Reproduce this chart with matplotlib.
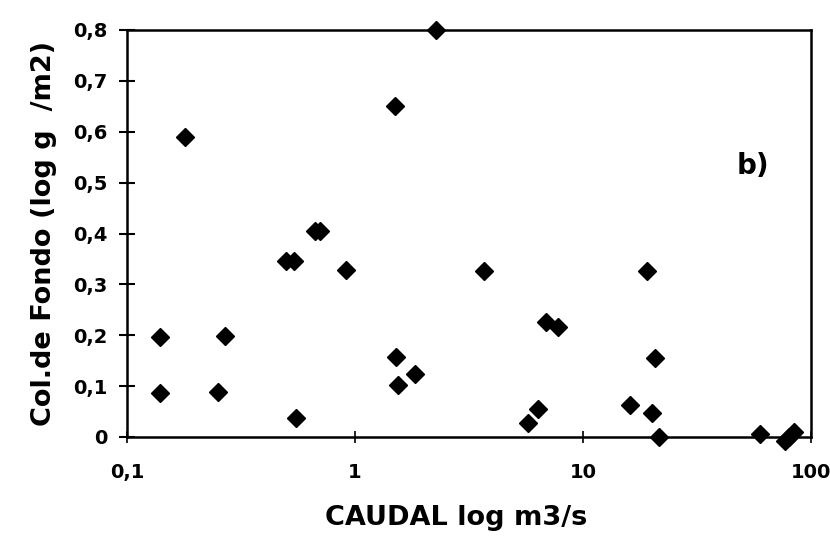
import matplotlib
matplotlib.use("Agg")
import matplotlib.pyplot as plt
from matplotlib.ticker import FixedLocator, FixedFormatter, NullLocator

# Discharge (m3/s) and bottom collector values (log g/m2)
caudal = [0.14, 0.14, 0.27, 0.25, 0.18, 0.55, 0.50, 0.54, 0.67, 0.70,
          0.91, 1.52, 1.55, 1.84, 1.50, 2.27, 3.68, 19.1, 6.86, 7.76,
          20.6, 6.38, 5.74, 16.0, 20.0, 21.6, 59.7, 76.8, 84.1, 80.0]
col_fondo = [0.197, 0.087, 0.198, 0.088, 0.590, 0.038, 0.345, 0.345, 0.405, 0.405,
             0.329, 0.158, 0.103, 0.124, 0.651, 0.800, 0.326, 0.327, 0.227, 0.216,
             0.156, 0.056, 0.028, 0.063, 0.047, 0.000, 0.005, -0.008, 0.009, 0.0]

x_ticks = [0.1, 1, 10, 100]
x_tick_labels = ["0,1", "1", "10", "100"]
y_ticks = [0, 0.1, 0.2, 0.3, 0.4, 0.5, 0.6, 0.7, 0.8]
y_tick_labels = ["0", "0,1", "0,2", "0,3", "0,4", "0,5", "0,6", "0,7", "0,8"]

plt.rcParams["font.family"] = ["DejaVu Sans"]

W, H = 830, 548
fig = plt.figure(figsize=(W / 100, H / 100), dpi=100)
left, right, top, bottom = 127, 811, 30, 437
ax = fig.add_axes([left / W, 1 - bottom / H, (right - left) / W, (bottom - top) / H])

ax.plot(caudal, col_fondo, linestyle="none", marker="D", markersize=9.2,
        color="black", clip_on=False, zorder=3)

ax.set_xscale("log")
ax.set_xlim(0.1, 100)
ax.set_ylim(0, 0.8)

ax.xaxis.set_major_locator(FixedLocator(x_ticks))
ax.xaxis.set_major_formatter(FixedFormatter(x_tick_labels))
ax.xaxis.set_minor_locator(NullLocator())
ax.yaxis.set_major_locator(FixedLocator(y_ticks))
ax.yaxis.set_major_formatter(FixedFormatter(y_tick_labels))

for s in ax.spines.values():
    s.set_linewidth(1.8)
    s.set_color("black")

ax.tick_params(axis="y", direction="inout", length=12, width=1.5, pad=8,
               labelsize=14)
ax.tick_params(axis="x", direction="inout", length=8, width=1.2, pad=15,
               labelsize=14)
for lab in ax.get_xticklabels() + ax.get_yticklabels():
    lab.set_fontweight("bold")

ax.set_xlabel("CAUDAL log m3/s", fontsize=19.5, fontweight="bold", labelpad=16)
ax.xaxis.label.set_x(0.481)
ax.set_ylabel("Col.de Fondo (log g  /m2)", fontsize=19.5, fontweight="bold",
              labelpad=12)

ax.text(0.915, 0.665, "b)", transform=ax.transAxes, fontsize=20,
        fontweight="bold", ha="center", va="center")

fig.savefig("out.png", dpi=100)
